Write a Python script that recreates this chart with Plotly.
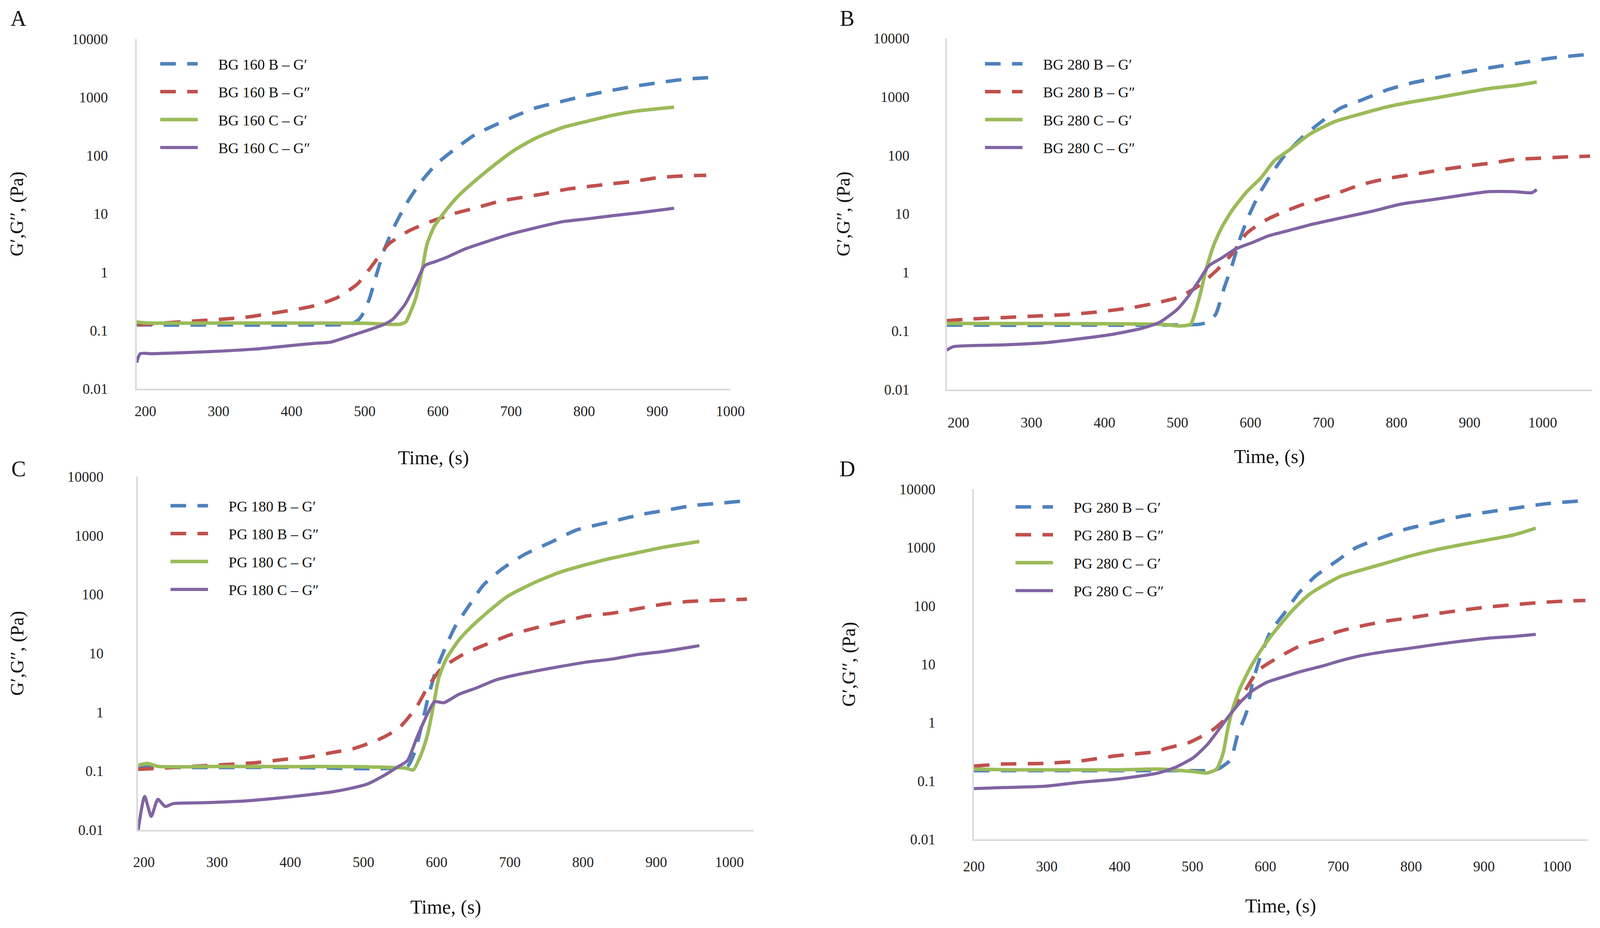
import plotly.graph_objects as go

# ---------------- data ----------------
# Panel A : BG 160
A_B_Gp_t = [188, 250, 300, 350, 400, 450, 482, 492, 500, 507, 517, 527, 542, 557, 575, 597, 622, 651, 677, 706, 734, 769, 803, 838, 873, 908, 936, 972]
A_B_Gp_v = [0.125, 0.124, 0.125, 0.124, 0.124, 0.125, 0.13, 0.155, 0.22, 0.37, 1.0, 2.5, 6.7, 15, 33, 70, 126, 230, 330, 480, 660, 850, 1080, 1320, 1580, 1830, 2040, 2190]
A_B_Gpp_t = [190, 238, 301, 336, 371, 406, 433, 463, 490, 512, 532, 560, 589, 620, 651, 685, 713, 744, 776, 810, 838, 870, 901, 936, 967]
A_B_Gpp_v = [0.125, 0.138, 0.155, 0.168, 0.195, 0.23, 0.27, 0.37, 0.63, 1.4, 3.0, 5.1, 7.3, 10, 12.6, 16.6, 19, 22, 26.5, 30, 33, 36.5, 42, 45, 46]
A_C_Gp_t = [188, 200, 300, 400, 500, 548, 556, 562, 570, 579, 585, 595, 612, 629, 654, 679, 705, 734, 769, 803, 838, 873, 923]
A_C_Gp_v = [0.14, 0.135, 0.134, 0.134, 0.133, 0.128, 0.14, 0.2, 0.37, 1.2, 3.0, 6.1, 12, 21, 40, 72, 125, 200, 300, 385, 490, 585, 680]
A_C_Gpp_t = [188, 193, 210, 280, 350, 392, 430, 453, 478, 503, 525, 538, 555, 570, 582, 595, 612, 637, 662, 699, 734, 769, 803, 838, 873, 923]
A_C_Gpp_v = [0.028, 0.04, 0.04, 0.043, 0.048, 0.054, 0.06, 0.063, 0.079, 0.10, 0.125, 0.155, 0.28, 0.64, 1.3, 1.5, 1.8, 2.5, 3.2, 4.5, 5.8, 7.3, 8.2, 9.3, 10.4, 12.5]

# Panel B : BG 280
B_B_Gp_t = [184, 250, 300, 350, 400, 450, 500, 529, 540, 552, 564, 575, 585, 597, 612, 629, 647, 672, 697, 723, 751, 786, 821, 856, 891, 926, 975, 1016, 1058]
B_B_Gp_v = [0.126, 0.126, 0.125, 0.126, 0.126, 0.126, 0.127, 0.13, 0.14, 0.19, 0.55, 1.35, 3.6, 8.9, 22, 49, 101, 210, 375, 640, 870, 1300, 1730, 2130, 2610, 3110, 3900, 4650, 5240]
B_B_Gpp_t = [184, 214, 263, 305, 346, 388, 437, 470, 502, 529, 554, 575, 595, 623, 652, 681, 716, 751, 786, 835, 870, 898, 933, 961, 992, 1030, 1065]
B_B_Gpp_v = [0.15, 0.16, 0.17, 0.18, 0.19, 0.21, 0.25, 0.30, 0.38, 0.59, 1.1, 2.1, 4.7, 8.1, 11.7, 16, 22, 31.5, 40, 50, 59, 66, 75, 85, 89, 94, 97]
B_C_Gp_t = [184, 250, 300, 400, 480, 502, 518, 522, 531, 539, 549, 560, 575, 595, 614, 633, 652, 681, 716, 751, 786, 821, 856, 891, 926, 961, 992]
B_C_Gp_v = [0.135, 0.134, 0.134, 0.133, 0.13, 0.122, 0.13, 0.17, 0.42, 1.1, 2.8, 5.7, 11.6, 24, 41, 82, 121, 230, 380, 510, 670, 820, 970, 1160, 1380, 1550, 1790]
B_C_Gpp_t = [184, 193, 263, 318, 367, 409, 450, 475, 499, 514, 529, 543, 560, 579, 604, 624, 652, 681, 723, 765, 807, 849, 891, 926, 961, 985, 992]
B_C_Gpp_v = [0.047, 0.054, 0.058, 0.063, 0.074, 0.087, 0.11, 0.14, 0.23, 0.38, 0.71, 1.3, 1.75, 2.5, 3.3, 4.2, 5.2, 6.5, 8.5, 11, 14.8, 17.5, 21, 24, 24, 23, 26]

# Panel C : PG 180
C_B_Gp_t = [192, 250, 300, 400, 488, 521, 560, 570, 580, 588, 598, 612, 625, 644, 664, 690, 719, 756, 791, 840, 881, 916, 951, 986, 1021]
C_B_Gp_v = [0.117, 0.115, 0.115, 0.115, 0.11, 0.11, 0.12, 0.21, 0.63, 1.7, 4.7, 12.6, 28, 64, 145, 275, 470, 770, 1240, 1740, 2300, 2730, 3250, 3540, 3880]
C_B_Gpp_t = [192, 212, 282, 351, 386, 421, 456, 486, 520, 548, 572, 588, 607, 639, 669, 700, 735, 770, 805, 840, 874, 909, 944, 979, 1024]
C_B_Gpp_v = [0.107, 0.11, 0.123, 0.138, 0.155, 0.17, 0.205, 0.24, 0.34, 0.53, 1.2, 2.7, 5.6, 10, 14.4, 20.5, 27, 34, 43, 48, 57, 68, 76, 79, 83]
C_C_Gp_t = [192, 205, 219, 300, 400, 480, 558, 568, 580, 588, 597, 603, 613, 630, 647, 672, 697, 735, 770, 805, 840, 874, 909, 959]
C_C_Gp_v = [0.125, 0.135, 0.12, 0.12, 0.119, 0.119, 0.112, 0.105, 0.21, 0.44, 1.6, 3.9, 8, 16.6, 28, 53, 93, 162, 242, 323, 415, 510, 630, 795]
C_C_Gpp_t = [192, 201, 210, 219, 229, 240, 282, 337, 386, 421, 456, 480, 505, 530, 547, 560, 573, 587, 597, 610, 630, 655, 680, 705, 735, 770, 805, 840, 874, 909, 959]
C_C_Gpp_v = [0.0098, 0.037, 0.017, 0.033, 0.025, 0.028, 0.029, 0.031, 0.035, 0.039, 0.044, 0.05, 0.060, 0.087, 0.118, 0.15, 0.37, 0.91, 1.5, 1.45, 2.0, 2.6, 3.5, 4.2, 5.0, 6.0, 7.1, 8.0, 9.5, 10.7, 13.5]

# Panel D : PG 280
D_B_Gp_t = [200, 250, 300, 400, 500, 518, 535, 552, 562, 574, 582, 592, 607, 626, 646, 669, 698, 724, 759, 794, 829, 864, 899, 941, 983, 1032]
D_B_Gp_v = [0.15, 0.15, 0.15, 0.15, 0.15, 0.15, 0.16, 0.23, 0.62, 1.5, 4.6, 12.2, 36, 75, 167, 326, 590, 990, 1470, 2090, 2630, 3330, 3960, 4700, 5600, 6300]
D_B_Gpp_t = [200, 241, 297, 346, 395, 451, 463, 496, 527, 552, 572, 590, 619, 649, 681, 696, 731, 766, 801, 836, 871, 906, 941, 976, 1011, 1039]
D_B_Gpp_v = [0.18, 0.195, 0.20, 0.22, 0.27, 0.32, 0.36, 0.46, 0.74, 1.4, 3.5, 7.8, 13.4, 21, 27.5, 35, 45, 55, 63, 74, 85, 96, 105, 114, 121, 124]
D_C_Gp_t = [200, 250, 300, 400, 451, 501, 520, 533, 542, 548, 555, 565, 579, 594, 610, 636, 661, 703, 731, 766, 801, 836, 871, 906, 941, 971]
D_C_Gp_v = [0.16, 0.155, 0.155, 0.155, 0.16, 0.145, 0.137, 0.16, 0.30, 0.74, 1.7, 3.8, 8.6, 17.5, 33, 81, 160, 320, 410, 545, 730, 930, 1130, 1360, 1650, 2150]
D_C_Gpp_t = [200, 241, 297, 346, 395, 451, 476, 501, 521, 538, 552, 565, 582, 602, 627, 652, 678, 703, 731, 766, 801, 836, 871, 906, 941, 971]
D_C_Gpp_v = [0.074, 0.077, 0.081, 0.095, 0.107, 0.135, 0.17, 0.25, 0.43, 0.82, 1.4, 2.2, 3.5, 4.9, 6.2, 7.7, 9.3, 11.5, 14, 16.6, 19, 22, 25, 28, 30, 32.5]

panel_letters = ["A", "B", "C", "D"]
sample_names = ["BG 160", "BG 280", "PG 180", "PG 280"]
series_suffix = ["B \u2013 G\u2032", "B \u2013 G\u2033", "C \u2013 G\u2032", "C \u2013 G\u2033"]
y_tick_vals = [0.01, 0.1, 1, 10, 100, 1000, 10000]
y_tick_text = ["0.01", "0.1", "1", "10", "100", "1000", "10000"]
x_tick_vals = [200, 300, 400, 500, 600, 700, 800, 900, 1000]
x_title = "Time, (s)"
y_title = "G\u2032,G\u2032\u2032, (Pa)"

panel_data = [
    [(A_B_Gp_t, A_B_Gp_v), (A_B_Gpp_t, A_B_Gpp_v), (A_C_Gp_t, A_C_Gp_v), (A_C_Gpp_t, A_C_Gpp_v)],
    [(B_B_Gp_t, B_B_Gp_v), (B_B_Gpp_t, B_B_Gpp_v), (B_C_Gp_t, B_C_Gp_v), (B_C_Gpp_t, B_C_Gpp_v)],
    [(C_B_Gp_t, C_B_Gp_v), (C_B_Gpp_t, C_B_Gpp_v), (C_C_Gp_t, C_C_Gp_v), (C_C_Gpp_t, C_C_Gpp_v)],
    [(D_B_Gp_t, D_B_Gp_v), (D_B_Gpp_t, D_B_Gpp_v), (D_C_Gp_t, D_C_Gp_v), (D_C_Gpp_t, D_C_Gpp_v)],
]

# ---------------- styling / layout ----------------
W, H = 4357, 2375          # reference picture size; geometry below is in its pixels
colors = ["#4F81BD", "#C0504D", "#9BBB59", "#8064A2"]
dashes = ["40px,29px", "40px,29px", "solid", "solid"]
widths = [9, 9, 9, 8]

geom = [
    dict(x0=372, x1=1989, y0=100, y1=995, xr=[188, 1000], tstand=22, ystand=62,
         legx=431, legy=132, letter=(50, 47), xts=82, yts=110),
    dict(x0=2578, x1=4336, y0=98, y1=997, xr=[184, 1068], tstand=49, ystand=84,
         legx=2677, legy=132, letter=(2307, 47), xts=50, yts=46),
    dict(x0=376, x1=2052, y0=1220, y1=2124, xr=[192, 1033], tstand=47, ystand=77,
         legx=459, legy=1263, letter=(50, 1200), xts=78, yts=98),
    dict(x0=2652, x1=4323, y0=1252, y1=2148, xr=[200, 1042], tstand=34, ystand=87,
         legx=2760, legy=1266, letter=(2307, 1200), xts=64, yts=98),
]

SERIF = "Liberation Serif"
NB = "\u00a0" * 5
fig = go.Figure()
layout = dict(autosize=True, margin=dict(l=0, r=0, t=0, b=0),
              paper_bgcolor="white", plot_bgcolor="white", showlegend=True,
              annotations=[])

for p in range(4):
    g = geom[p]
    sfx = "" if p == 0 else str(p + 1)
    leg = "legend" if p == 0 else "legend" + str(p + 1)
    for s in range(4):
        t, v = panel_data[p][s]
        fig.add_trace(go.Scatter(
            x=t, y=v, mode="lines",
            line=dict(color=colors[s], width=widths[s], dash=dashes[s], shape="spline", smoothing=0.6),
            name=NB + sample_names[p] + " " + series_suffix[s],
            legendgroup=f"p{p}s{s}",
            xaxis="x" + sfx, yaxis="y" + sfx, legend=leg,
        ))
    layout["xaxis" + sfx] = dict(
        domain=[g["x0"] / W, g["x1"] / W], range=g["xr"], anchor="y" + sfx,
        tickvals=x_tick_vals, showgrid=False, zeroline=False, showline=True,
        linecolor="#d9d9d9", linewidth=4, ticks="", ticklabelstandoff=g["tstand"],
        tickfont=dict(family=SERIF, size=37, color="#222222"),
        title=dict(text=x_title, font=dict(family=SERIF, size=50, color="#111111"), standoff=g["xts"]),
        automargin=False,
    )
    layout["yaxis" + sfx] = dict(
        domain=[1 - g["y1"] / H, 1 - g["y0"] / H], type="log", range=[-2, 4], anchor="x" + sfx,
        tickvals=y_tick_vals, ticktext=y_tick_text, showgrid=False, zeroline=False, showline=True,
        linecolor="#d9d9d9", linewidth=4, ticks="", ticklabelstandoff=g["ystand"],
        tickfont=dict(family=SERIF, size=37, color="#222222"),
        title=dict(text=y_title, font=dict(family=SERIF, size=48, color="#111111"), standoff=g["yts"]),
        automargin=False,
    )
    layout[leg] = dict(
        x=g["legx"] / W, y=1 - g["legy"] / H, xanchor="left", yanchor="top",
        bgcolor="rgba(0,0,0,0)", borderwidth=0, itemwidth=96, tracegroupgap=19,
        font=dict(family=SERIF, size=38, color="#111111"), traceorder="grouped",
    )
    layout["annotations"].append(dict(
        text=panel_letters[p], xref="paper", yref="paper",
        x=g["letter"][0] / W, y=1 - g["letter"][1] / H, xanchor="center", yanchor="middle",
        showarrow=False, font=dict(family=SERIF, size=56, color="#111111"),
    ))

fig.update_layout(**layout)

# the figure fills the whole browser viewport
post = ("document.documentElement.style.margin='0';document.body.style.margin='0';"
        "document.body.style.overflow='hidden';"
        "var gd=document.getElementById('{plot_id}');Plotly.Plots.resize(gd);")
fig.write_html("out.html", default_width="100vw", default_height="100vh",
               config={"responsive": True, "displayModeBar": False}, post_script=post)
